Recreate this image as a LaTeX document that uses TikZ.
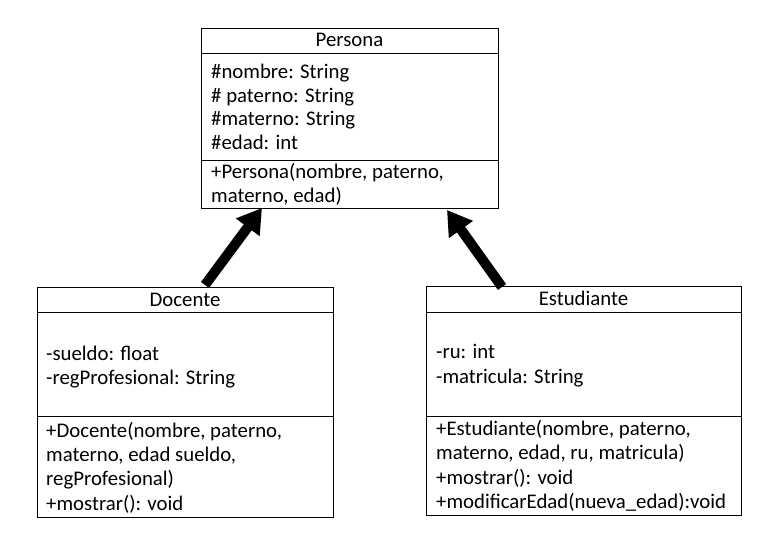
\documentclass[tikz,border=0pt]{standalone}
\usepackage{fontspec}
\setmainfont{Carlito}
\usetikzlibrary{arrows.meta}
\tikzset{
  box/.style={draw=black, line width=0.9pt, rectangle, inner sep=0pt, anchor=north west},
  sep/.style={draw=black, line width=0.9pt},
  txt/.style={anchor=base west, inner sep=0pt, font=\fontsize{20.8}{24}\selectfont},
  ttl/.style={anchor=base, inner sep=0pt, font=\fontsize{20.8}{24}\selectfont},
  inherit/.style={line width=10pt, -{Triangle[length=24pt,width=28pt]}}
}
\begin{document}
\begin{tikzpicture}[x=1pt,y=-1pt]
\useasboundingbox (0,0) rectangle (766,557);
% Persona
\node[box, minimum width=297pt, minimum height=180pt] (persona) at (201,28) {};
\draw[sep] (201,53) -- (498,53);
\draw[sep] (201,160) -- (498,160);
\node[ttl] (pt) at (349.5,46.5) {Persona};
\node[txt] (p1) at (211,78.3) {\#nombre: String};
\node[txt] (p2) at (211,102) {\# paterno: String};
\node[txt] (p3) at (211,125.5) {\#materno: String};
\node[txt] (p4) at (211,149) {\#edad: int};
\node[txt] (p5) at (211,178.5) {+Persona(nombre, paterno,};
\node[txt] (p6) at (211,202.5) {materno, edad)};
% Docente
\node[box, minimum width=296pt, minimum height=230pt] (docente) at (37,287) {};
\draw[sep] (37,312) -- (333,312);
\draw[sep] (37,416) -- (333,416);
\node[ttl] (dt) at (185,306) {Docente};
\node[txt] (d1) at (46,360) {-sueldo: float};
\node[txt] (d2) at (46,384) {-regProfesional: String};
\node[txt] (d3) at (46,437) {+Docente(nombre, paterno,};
\node[txt] (d4) at (46,461.5) {materno, edad sueldo,};
\node[txt] (d5) at (46,485.5) {regProfesional)};
\node[txt] (d6) at (46,510) {+mostrar(): void};
% Estudiante
\node[box, minimum width=315pt, minimum height=229pt] (estudiante) at (426,286) {};
\draw[sep] (426,312) -- (741,312);
\draw[sep] (426,416) -- (741,416);
\node[ttl] (et) at (583.5,305) {Estudiante};
\node[txt] (e1) at (436,358.5) {-ru: int};
\node[txt] (e2) at (436,383) {-matricula: String};
\node[txt] (e3) at (436,435) {+Estudiante(nombre, paterno,};
\node[txt] (e4) at (436,459.5) {materno, edad, ru, matricula)};
\node[txt] (e5) at (436,484) {+mostrar(): void};
\node[txt] (e6) at (436,508.5) {+modificarEdad(nueva\_edad):void};
% inheritance arrows
\coordinate (ds) at (205,285);
\coordinate (dp) at (262,208);
\coordinate (es) at (502,287);
\coordinate (ep) at (447,210);
\draw[inherit] (ds) -- (dp);
\draw[inherit] (es) -- (ep);
\end{tikzpicture}
\end{document}
